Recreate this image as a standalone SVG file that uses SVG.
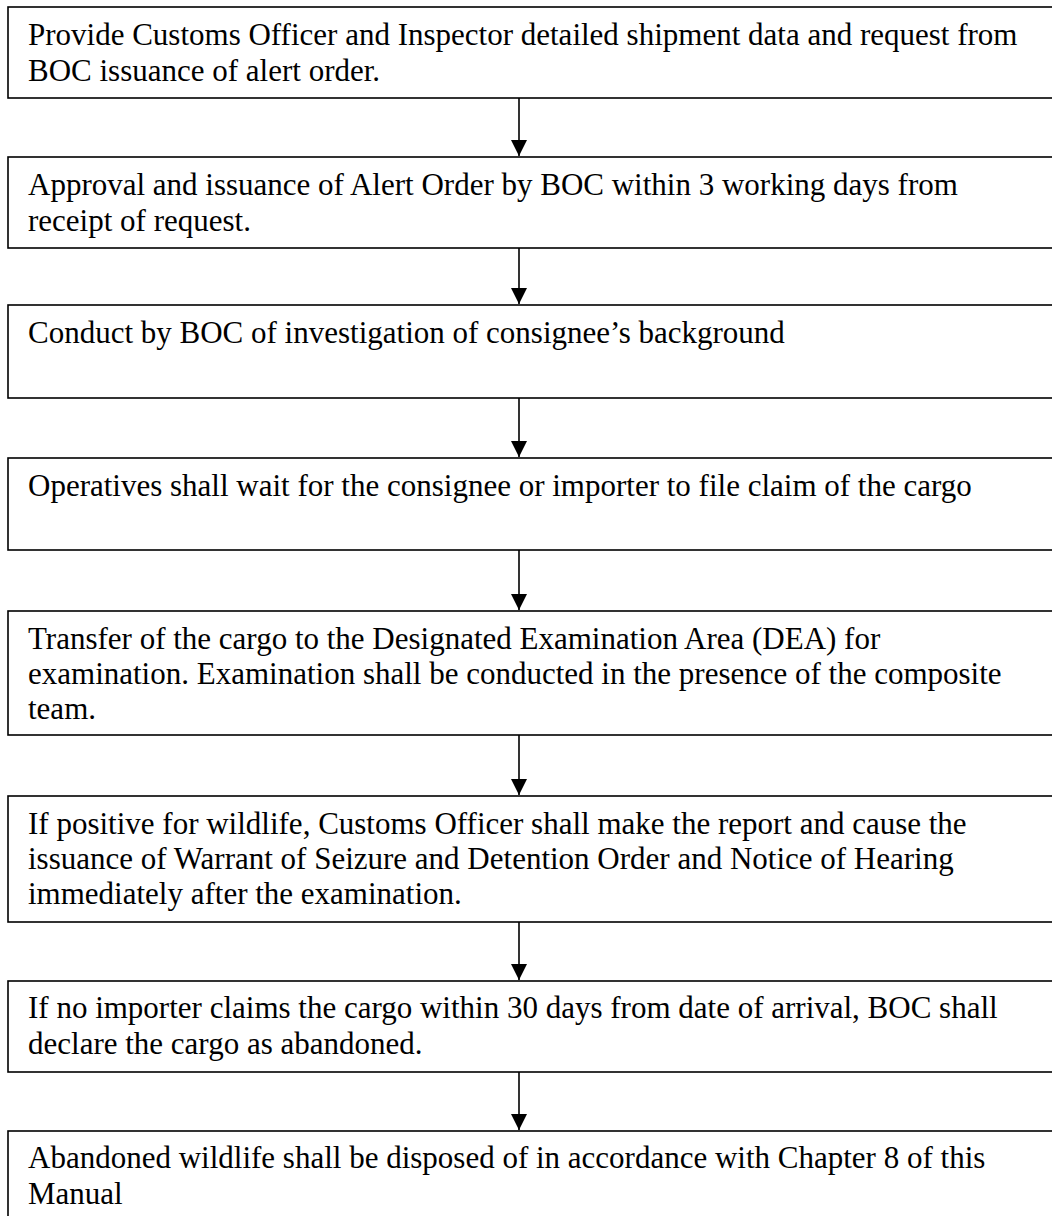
<svg xmlns="http://www.w3.org/2000/svg" width="1052" height="1216" viewBox="0 0 1052 1216">
<defs>
<style>
.box{fill:#fff;stroke:#000;stroke-width:1.6}
.t{font-family:"Liberation Serif","Times New Roman",serif;font-size:31px;fill:#000}
.c{stroke:#000;stroke-width:1.6;fill:none}
</style>
<marker id="ah" markerUnits="userSpaceOnUse" markerWidth="18" markerHeight="16" viewBox="0 0 18 16" refX="17" refY="8" orient="auto">
<path d="M1,0 L17,8 L1,16 Z" fill="#000"/>
</marker>
</defs>
<rect width="1052" height="1216" fill="#fff"/>
<g id="connectors">
<line class="c" x1="519" y1="98" x2="519" y2="156" marker-end="url(#ah)"/>
<line class="c" x1="519" y1="248" x2="519" y2="304" marker-end="url(#ah)"/>
<line class="c" x1="519" y1="398" x2="519" y2="457" marker-end="url(#ah)"/>
<line class="c" x1="519" y1="550" x2="519" y2="610" marker-end="url(#ah)"/>
<line class="c" x1="519" y1="735" x2="519" y2="795" marker-end="url(#ah)"/>
<line class="c" x1="519" y1="922" x2="519" y2="980" marker-end="url(#ah)"/>
<line class="c" x1="519" y1="1072" x2="519" y2="1130" marker-end="url(#ah)"/>
</g>
<g id="n1"><rect class="box" x="8" y="7" width="1060" height="91"/>
<text class="t" x="28" y="45">Provide Customs Officer and Inspector detailed shipment data and request from</text>
<text class="t" x="28" y="81">BOC issuance of alert order.</text></g>
<g id="n2"><rect class="box" x="8" y="157" width="1060" height="91"/>
<text class="t" x="28" y="195">Approval and issuance of Alert Order by BOC within 3 working days from</text>
<text class="t" x="28" y="231">receipt of request.</text></g>
<g id="n3"><rect class="box" x="8" y="305" width="1060" height="93"/>
<text class="t" x="28" y="343">Conduct by BOC of investigation of consignee’s background</text></g>
<g id="n4"><rect class="box" x="8" y="458" width="1060" height="92"/>
<text class="t" x="28" y="496">Operatives shall wait for the consignee or importer to file claim of the cargo</text></g>
<g id="n5"><rect class="box" x="8" y="611" width="1060" height="124"/>
<text class="t" x="28" y="649">Transfer of the cargo to the Designated Examination Area (DEA) for</text>
<text class="t" x="28" y="684">examination. Examination shall be conducted in the presence of the composite</text>
<text class="t" x="28" y="719">team.</text></g>
<g id="n6"><rect class="box" x="8" y="796" width="1060" height="126"/>
<text class="t" x="28" y="834">If positive for wildlife, Customs Officer shall make the report and cause the</text>
<text class="t" x="28" y="869">issuance of Warrant of Seizure and Detention Order and Notice of Hearing</text>
<text class="t" x="28" y="904">immediately after the examination.</text></g>
<g id="n7"><rect class="box" x="8" y="981" width="1060" height="91"/>
<text class="t" x="28" y="1018">If no importer claims the cargo within 30 days from date of arrival, BOC shall</text>
<text class="t" x="28" y="1054">declare the cargo as abandoned.</text></g>
<g id="n8"><rect class="box" x="8" y="1131" width="1060" height="100"/>
<text class="t" x="28" y="1168">Abandoned wildlife shall be disposed of in accordance with Chapter 8 of this</text>
<text class="t" x="28" y="1204">Manual</text></g>
</svg>
